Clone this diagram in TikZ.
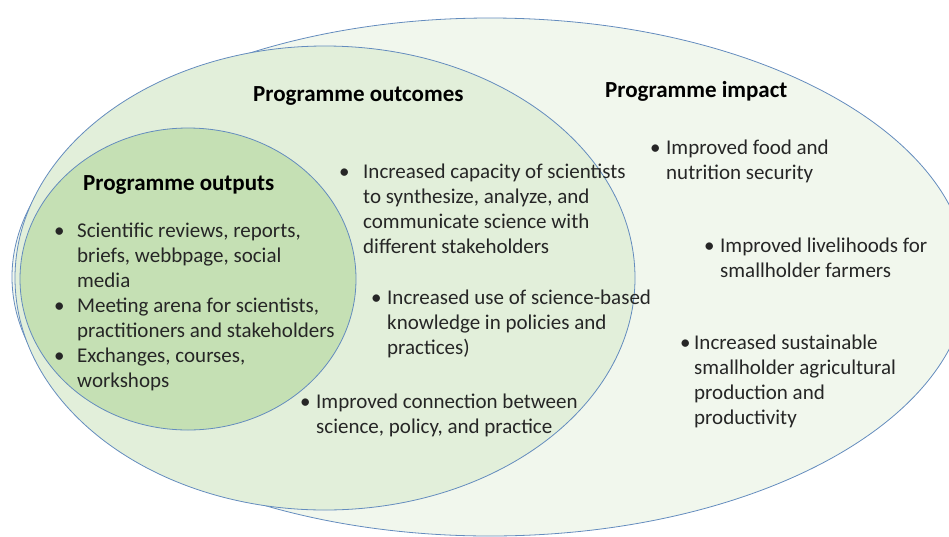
\documentclass[tikz,border=0pt]{standalone}
\usepackage{fontspec}
\setmainfont{Carlito}
\usepackage{array}
\definecolor{rimblue}{RGB}{100,140,190}
\definecolor{impactgreen}{RGB}{241,247,237}
\definecolor{outcomegreen}{RGB}{226,239,218}
\definecolor{outputgreen}{RGB}{197,224,180}
\newcommand{\blist}[2]{\begin{tabular}[t]{@{}p{#1pt}@{}l@{}}\textbullet & #2\end{tabular}}

\begin{document}
\begin{tikzpicture}[x=1pt,y=-1pt,
    zone/.style={draw=rimblue,line width=0.8pt},
    head/.style={font=\fontsize{23}{25}\selectfont\bfseries,anchor=base west,inner sep=0pt},
    body/.style={font=\fontsize{21}{25}\selectfont,anchor=base west,inner sep=0pt,text=black!85}]
  \useasboundingbox (0,0) rectangle (949,536);
  % the three nested zones
  \draw[zone,fill=impactgreen] (490,277) ellipse [x radius=478,y radius=259];
  \draw[zone,fill=outcomegreen] (325,278) ellipse [x radius=310,y radius=232];
  \draw[zone,fill=outputgreen] (188,279) ellipse [x radius=168,y radius=151];
  % headings
  \node[head] (outputs) at (83,190) {Programme outputs};
  \node[head] (outcomes) at (253,101) {Programme outcomes};
  \node[head] (impact) at (605,97) {Programme impact};
  % outputs
  \node[body] (put) at (54,237) {\begin{tabular}[t]{@{}p{23pt}@{}l@{}}
      \textbullet & Scientific reviews, reports,\\
      & briefs, webbpage, social\\
      & media\\
      \textbullet & Meeting arena for scientists,\\
      & practitioners and stakeholders\\
      \textbullet & Exchanges, courses,\\
      & workshops\end{tabular}};
  % outcomes
  \node[body] (come1) at (339,178) {\blist{24}{Increased capacity of scientists\\
      & to synthesize, analyze, and\\ & communicate science with\\ & different stakeholders}};
  \node[body] (come2) at (371,304) {\blist{16}{Increased use of science-based\\
      & knowledge in policies and\\ & practices)}};
  \node[body] (come3) at (300,408) {\blist{16}{Improved connection between\\
      & science, policy, and practice}};
  % impact
  \node[body] (imp1) at (650,154) {\blist{16}{Improved food and\\ & nutrition security}};
  \node[body] (imp2) at (704,252) {\blist{16}{Improved livelihoods for\\ & smallholder farmers}};
  \node[body] (imp3) at (680,349) {\blist{14}{Increased sustainable\\
      & smallholder agricultural\\ & production and\\ & productivity}};
\end{tikzpicture}
\end{document}
